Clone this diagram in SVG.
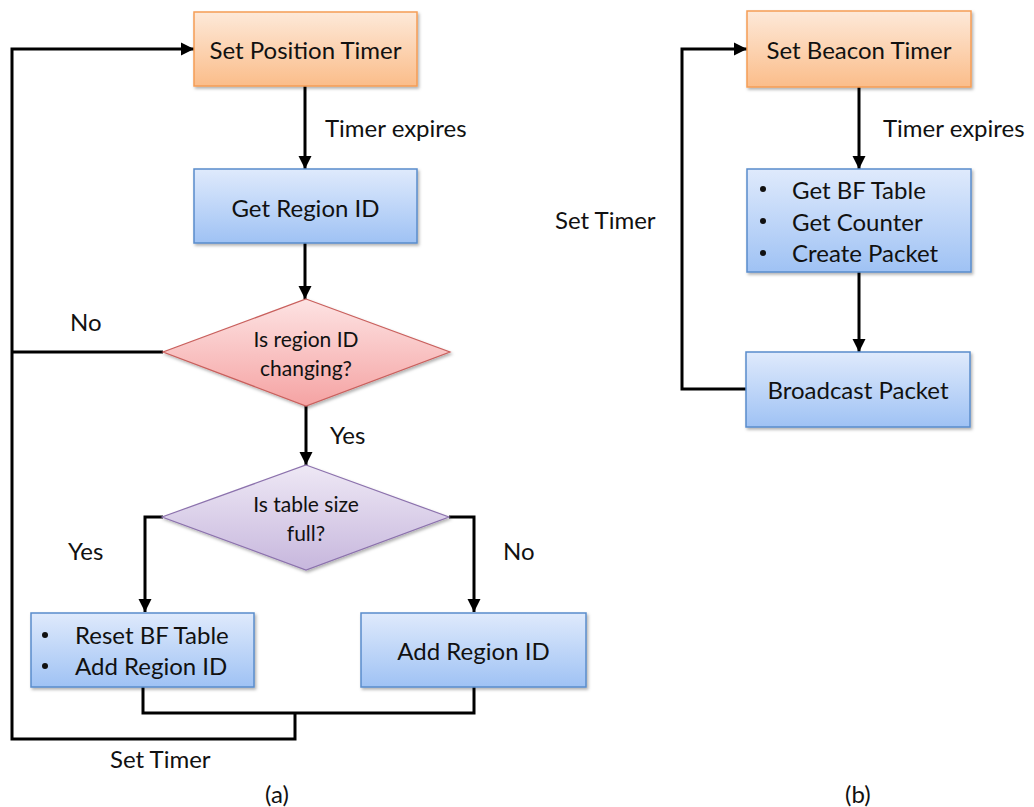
<svg xmlns="http://www.w3.org/2000/svg" width="1034" height="807" viewBox="0 0 1034 807">
  <defs>
    <linearGradient id="gOrange" x1="0" y1="0" x2="0" y2="1">
      <stop offset="0" stop-color="#fde9d9"/>
      <stop offset="1" stop-color="#fbbd8a"/>
    </linearGradient>
    <linearGradient id="gBlue" x1="0" y1="0" x2="0" y2="1">
      <stop offset="0" stop-color="#dfeafc"/>
      <stop offset="1" stop-color="#9fc2f4"/>
    </linearGradient>
    <linearGradient id="gRed" x1="0" y1="0" x2="0" y2="1">
      <stop offset="0" stop-color="#fde3e3"/>
      <stop offset="1" stop-color="#f5a3a3"/>
    </linearGradient>
    <linearGradient id="gPurple" x1="0" y1="0" x2="0" y2="1">
      <stop offset="0" stop-color="#eee8f5"/>
      <stop offset="1" stop-color="#c7b7dd"/>
    </linearGradient>
    <filter id="shadow" x="-10%" y="-10%" width="125%" height="130%">
      <feDropShadow dx="1.5" dy="2" stdDeviation="1.5" flood-color="#000" flood-opacity="0.3"/>
    </filter>
    <marker id="arrow" viewBox="0 0 10 10" refX="10" refY="5" markerWidth="4.5" markerHeight="4.5" orient="auto" markerUnits="strokeWidth">
      <path d="M0,0 L10,5 L0,10 z" fill="#000"/>
    </marker>
  </defs>
  <style>
    text { font-family: Lato, "Liberation Sans", sans-serif; font-size: 24px; fill: #111; }
    .node text { text-anchor: middle; dominant-baseline: central; }
    .node text.item { text-anchor: start; }
    .node circle { fill: #111; }
    .orange { fill: url(#gOrange); stroke: #f59d56; stroke-width: 1.5; filter: url(#shadow); }
    .blue { fill: url(#gBlue); stroke: #5a8ccb; stroke-width: 1.5; filter: url(#shadow); }
    .red { fill: url(#gRed); stroke: #c9605d; stroke-width: 1.2; filter: url(#shadow); }
    .purple { fill: url(#gPurple); stroke: #8c72ad; stroke-width: 1.2; filter: url(#shadow); }
    .conn path { fill: none; stroke: #000; stroke-width: 3; stroke-linejoin: miter; }
    .arr { marker-end: url(#arrow); }
    .dia text { font-size: 21px; }
  </style>

  <rect width="1034" height="807" fill="#fff"/>

  <!-- connectors -->
  <g id="connectors" class="conn">
    <!-- (a) main flow -->
    <path class="arr" d="M305,86 V169"/>
    <path class="arr" d="M305,243 V299"/>
    <path class="arr" d="M306,406 V465"/>
    <path class="arr" d="M163,517 H145 V612"/>
    <path class="arr" d="M449,517 H474 V612"/>
    <path d="M143,687 V713 H474 V687"/>
    <!-- loop back to Set Position Timer -->
    <path d="M163,352 H12"/>
    <path class="arr" d="M295,713 V739 H12 V49 H194"/>
    <!-- (b) beacon flow -->
    <path class="arr" d="M859,87 V169"/>
    <path class="arr" d="M859,272 V352"/>
    <path class="arr" d="M746,389 H682 V49 H747"/>
  </g>

  <!-- (a) nodes -->
  <g id="set-position-timer" class="node">
    <rect class="orange" x="194" y="12" width="223" height="74"/>
    <text x="305.5" y="49">Set Position Timer</text>
  </g>
  <g id="get-region-id" class="node">
    <rect class="blue" x="194" y="169" width="223" height="74"/>
    <text x="305.5" y="207">Get Region ID</text>
  </g>
  <g id="region-changing" class="node dia">
    <polygon class="red" points="306,299 450,352 306,406 163,352"/>
    <text x="306" y="338">Is region ID</text>
    <text x="306" y="367">changing?</text>
  </g>
  <g id="table-full" class="node dia">
    <polygon class="purple" points="306,465 449,517 306,570 162,517"/>
    <text x="306" y="503">Is table size</text>
    <text x="306" y="532">full?</text>
  </g>
  <g id="reset-table" class="node">
    <rect class="blue" x="31" y="613" width="223" height="74"/>
    <circle cx="45" cy="635" r="3"/>
    <text class="item" x="75" y="634">Reset BF Table</text>
    <circle cx="45" cy="666" r="3"/>
    <text class="item" x="75" y="665">Add Region ID</text>
  </g>
  <g id="add-region-id" class="node">
    <rect class="blue" x="361" y="613" width="225" height="74"/>
    <text x="473.5" y="650">Add Region ID</text>
  </g>

  <!-- (b) nodes -->
  <g id="set-beacon-timer" class="node">
    <rect class="orange" x="747" y="11" width="224" height="76"/>
    <text x="859" y="49">Set Beacon Timer</text>
  </g>
  <g id="build-packet" class="node">
    <rect class="blue" x="747" y="169" width="224" height="103"/>
    <circle cx="763" cy="189" r="3"/>
    <text class="item" x="792" y="189">Get BF Table</text>
    <circle cx="763" cy="221" r="3"/>
    <text class="item" x="792" y="221">Get Counter</text>
    <circle cx="763" cy="253" r="3"/>
    <text class="item" x="792" y="252">Create Packet</text>
  </g>
  <g id="broadcast-packet" class="node">
    <rect class="blue" x="746" y="352" width="224" height="75"/>
    <text x="858" y="389">Broadcast Packet</text>
  </g>

  <!-- labels -->
  <g id="labels">
    <text x="325" y="137">Timer expires</text>
    <text x="70" y="331">No</text>
    <text x="330" y="444">Yes</text>
    <text x="68" y="560">Yes</text>
    <text x="503" y="560">No</text>
    <text x="110" y="768">Set Timer</text>
    <text x="265" y="803">(a)</text>
    <text x="883" y="137">Timer expires</text>
    <text x="555" y="229">Set Timer</text>
    <text x="845" y="803">(b)</text>
  </g>
</svg>
